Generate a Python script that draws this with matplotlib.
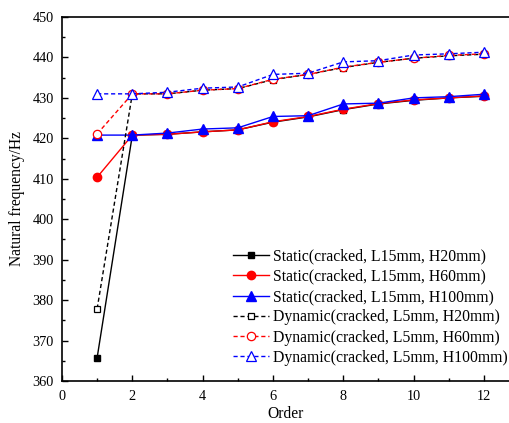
import matplotlib
matplotlib.use("Agg")
import matplotlib.pyplot as plt
from matplotlib.ticker import MultipleLocator

plt.rcParams['font.family'] = ['Liberation Serif', 'DejaVu Serif']
plt.rcParams['mathtext.fontset'] = 'stix'

order = [1, 2, 3, 4, 5, 6, 7, 8, 9, 10, 11, 12]
static_h20 = [365.8, 420.8, 421.0, 421.6, 422.1, 424.0, 425.3, 427.1, 428.5, 429.4, 430.0, 430.4]
static_h60 = [410.4, 420.8, 421.0, 421.6, 422.1, 424.1, 425.4, 427.2, 428.6, 429.5, 430.0, 430.5]
static_h100 = [420.8, 420.8, 421.3, 422.3, 422.6, 425.4, 425.6, 428.5, 428.7, 430.0, 430.3, 430.9]
dyn_h20 = [377.9, 431.0, 431.0, 431.9, 432.3, 434.5, 435.8, 437.5, 438.8, 439.8, 440.4, 440.8]
dyn_h60 = [421.1, 431.0, 431.0, 431.9, 432.3, 434.6, 435.8, 437.6, 438.8, 439.8, 440.5, 440.9]
dyn_h100 = [431.0, 431.0, 431.4, 432.4, 432.7, 435.8, 436.1, 438.9, 439.2, 440.6, 440.9, 441.3]

labels = [
    "Static(cracked, L15mm, H20mm)",
    "Static(cracked, L15mm, H60mm)",
    "Static(cracked, L15mm, H100mm)",
    "Dynamic(cracked, L5mm, H20mm)",
    "Dynamic(cracked, L5mm, H60mm)",
    "Dynamic(cracked, L5mm, H100mm)",
]

fig = plt.figure(figsize=(5.10, 4.23), dpi=100)
ax = fig.add_axes([62/510, 42/423, 448/510, 364/423])

dash = (0, (3, 2))
ax.plot(order, static_h20, color='black', lw=1, marker='s', ms=5, mfc='black', mec='black', label=labels[0])
ax.plot(order, static_h60, color='red', lw=1, marker='o', ms=6, mfc='red', mec='red', label=labels[1])
ax.plot(order, static_h100, color='blue', lw=1, marker='^', ms=7, mfc='blue', mec='blue', label=labels[2])
ax.plot(order, dyn_h20, color='black', lw=1, ls=dash, marker='s', ms=5, mfc='white', mec='black', mew=0.9, label=labels[3])
ax.plot(order, dyn_h60, color='red', lw=1, ls=dash, marker='o', ms=6, mfc='white', mec='red', mew=0.9, label=labels[4])
ax.plot(order, dyn_h100, color='blue', lw=1, ls=dash, marker='^', ms=7, mfc='white', mec='blue', mew=0.9, label=labels[5])

ax.set_xlim(0, 12.74)
ax.set_ylim(360, 450)
ax.xaxis.set_major_locator(MultipleLocator(2))
ax.xaxis.set_minor_locator(MultipleLocator(1))
ax.yaxis.set_major_locator(MultipleLocator(10))
ax.yaxis.set_minor_locator(MultipleLocator(5))
ax.tick_params(which='both', direction='in', top=False, right=False, labelsize=10.3)
ax.tick_params(axis='x', which='major', pad=6.5)
ax.tick_params(axis='y', which='major', pad=6)
ax.tick_params(which='major', length=4, width=1)
ax.tick_params(which='minor', length=2.5, width=1)
for s in ax.spines.values():
    s.set_linewidth(1.2)

ax.set_xlabel("Order", fontsize=11.2, labelpad=2)
ax.set_ylabel("Natural frequency/Hz", fontsize=11.2, labelpad=5)

leg = ax.legend(loc='lower right', bbox_to_anchor=(1.016, 0.016), frameon=False,
                fontsize=11.3, handlelength=2.3, handletextpad=0.25, labelspacing=0.27,
                borderaxespad=0.2)

fig.savefig("out.png", dpi=100)
